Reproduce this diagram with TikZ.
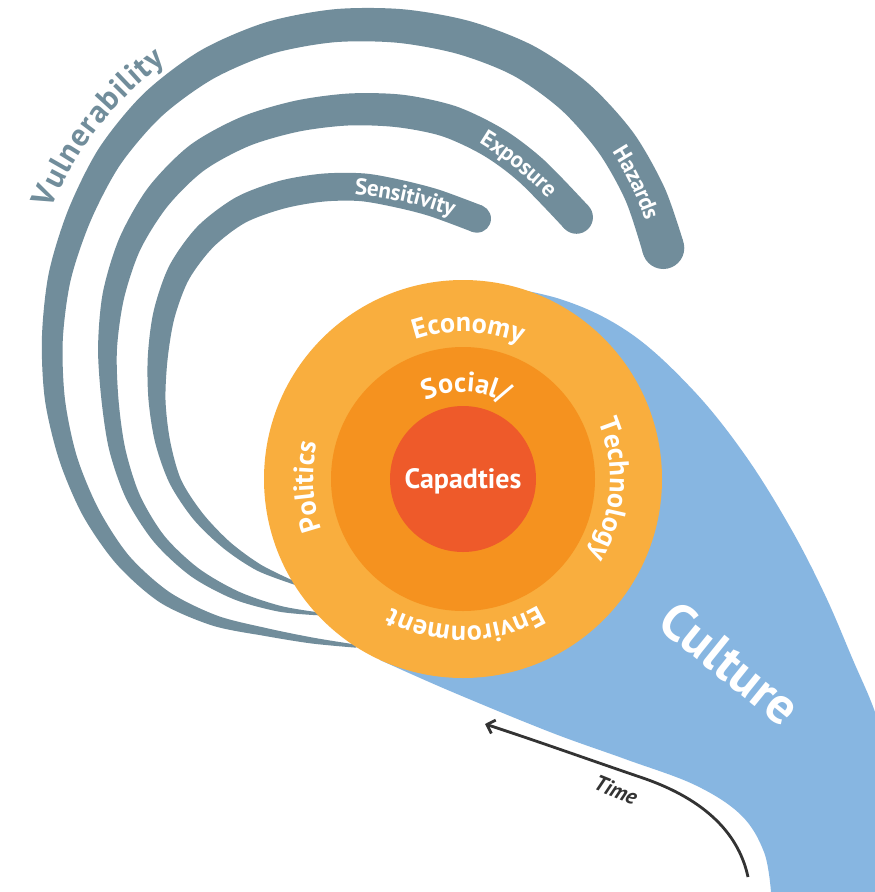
\documentclass[tikz,border=0pt]{standalone}
\usepackage{fontspec}
\setmainfont{PT Sans}
\usetikzlibrary{calc,decorations.text,arrows.meta}

\definecolor{bandgray}{HTML}{718D9B}
\definecolor{ringouter}{HTML}{F9AE3E}
\definecolor{ringmid}{HTML}{F5921F}
\definecolor{ringcore}{HTML}{EE5A2A}
\definecolor{culturefill}{HTML}{87B6E1}
\definecolor{timeink}{HTML}{333333}

\newcommand\ringfont{\fontsize{28}{30}\selectfont\bfseries}
\newcommand\bandfont{\fontsize{23}{25}\selectfont\bfseries}

% A tapering band around (bandO): polar centre points angle/radius/width,
% from the thin tail to the round head.
\newcommand\taperband[3]{%
  \foreach \pa/\pr/\pw [count=\i] in {#3} {\coordinate (#1-c-\i) at ($(bandO)+(\pa:\pr)$);}
  \gdef\bandouter{}\gdef\bandinner{}%
  \foreach \pa/\pr/\pw [count=\i] in {#3} {
    \pgfmathsetmacro\hw{\pw/2}
    \ifnum\i<#2\relax
      \pgfmathtruncatemacro\j{\i+1}
      \coordinate (#1-o-\i) at ($(#1-c-\i)!\hw pt!90:(#1-c-\j)$);
      \coordinate (#1-i-\i) at ($(#1-c-\i)!\hw pt!-90:(#1-c-\j)$);
    \else
      \pgfmathtruncatemacro\j{\i-1}
      \coordinate (#1-o-\i) at ($(#1-c-\i)!\hw pt!-90:(#1-c-\j)$);
      \coordinate (#1-i-\i) at ($(#1-c-\i)!\hw pt!90:(#1-c-\j)$);
      \fill[bandgray] (#1-c-\i) circle[radius=\hw];
    \fi
    \xdef\bandouter{\bandouter (#1-o-\i)}
    \xdef\bandinner{(#1-i-\i) \bandinner}
  }
  \edef\bandpath{\noexpand\fill[bandgray] plot[smooth] coordinates {\bandouter} -- plot[smooth] coordinates {\bandinner} -- cycle;}%
  \bandpath
}

\tikzset{
  ringlabel/.style={decorate, decoration={text along path, text align=center,
      text color=white, text={|\ringfont|#1}}},
  bandlabel/.style={decorate, decoration={text along path, text align=center,
      raise=-8pt, text color=white, text={|\bandfont|#1}}},
}

\begin{document}
\begin{tikzpicture}[x=1pt,y=-1pt]
\useasboundingbox (0,0) rectangle (875,892);
\fill[white] (0,0) rectangle (875,892);
\coordinate (ctr) at (463,479);
\coordinate (bandO) at (400,400);

% culture stream behind the rings
\fill[culturefill] plot[smooth, tension=0.6] coordinates {(470,281) (560,299) (630,333) (693,390) (745,455) (790,527) (825,595) (853,660) (875,712) (892,770)}
  -- (895,900) -- (772,900)
  -- plot[smooth, tension=0.6] coordinates {(771,892) (764,852) (741,815) (695,785) (625,759) (550,732) (450,691) (380,660)}
  -- (ctr) -- cycle;

% vulnerability bands
\taperband{hz}{24}{100/250/3, 110/256/6, 120/268/8, 130/288/11, 140/307/14, 150/320/15, 160/329/17, 170/337/18, 180/345/20, 190/353/21, 200/362/23, 210/370/25, 220/379/27, 230/385/29, 240/387/31, 250/385/32, 260/380/33, 270/374/34, 280/368/35, 290/361/36, 300/350/38, 310/336/40, 320/320/41, 330/304/42}
\taperband{ex}{21}{111/229/3, 120/241/6, 130/255/9, 140/268/11, 150/278/12, 160/284/14, 170/287/16, 180/290/17, 190/297/19, 200/305/22, 210/312/24, 220/316/27, 230/316/29, 240/310/30, 250/302/31, 260/295/32, 270/289/33, 280/283/33, 290/274/33, 300/264/33, 314/254/33}
\taperband{se}{18}{119.5/211/3, 130/219/7, 140/226/9, 150/233/11, 160/239/12, 170/241/15, 180/243/17, 190/246/20, 200/251/22, 210/255/24, 220/254/26, 230/248/27, 240/237/28, 250/226/28, 260/216/28, 270/206/28, 280/200/28, 293/197/28}

% band labels
\path[bandlabel=Hazards] (603,125) .. controls (630,160) and (652,205) .. (660,245);
\path[bandlabel=Exposure] (455,122) .. controls (495,138) and (540,175) .. (575,216);
\path[bandlabel=Sensitivity] (330,187) .. controls (380,184) and (440,200) .. (478,219);
\path[decorate, decoration={text along path, text align=center, raise=25pt,
    text color=bandgray, text={|\fontsize{32}{34}\selectfont\bfseries|Vulnerability}}]
  (62,250) .. controls (85,180) and (132,108) .. (208,64);

% time arrow
\coordinate (tstart) at (748,877);
\coordinate (tend) at (485,724);
\draw[timeink, line width=2.8pt, -{Straight Barb[length=7pt,width=14pt]}]
  (tstart) .. controls (738,830) and (700,797) .. (640,777)
  .. controls (590,760) and (540,742) .. (tend);
\node[rotate=-22, text=timeink, font=\fontsize{22}{24}\selectfont\bfseries\itshape] (time) at (616,790) {Time};

% culture label
\node[rotate=-39, text=white, font=\fontsize{52}{56}\selectfont\bfseries] (culture) at (730,663) {Culture};

% capacity rings
\node[circle, fill=ringouter, minimum size=398pt, inner sep=0pt] (outer) at (ctr) {};
\node[circle, fill=ringmid, minimum size=264pt, inner sep=0pt] (mid) at (ctr) {};
\node[circle, fill=ringcore, minimum size=146pt, inner sep=0pt] (core) at (ctr) {};

\path[ringlabel=Economy] (ctr) ++(-140:147) arc[start angle=-140, end angle=-36, radius=147];
\path[ringlabel=Technology] (ctr) ++(-48:147) arc[start angle=-48, end angle=56, radius=147];
\path[ringlabel=Environment] (ctr) ++(37:147) arc[start angle=37, end angle=141, radius=147];
\path[ringlabel=Politics] (ctr) ++(125:150) arc[start angle=125, end angle=229, radius=150];
\path[ringlabel=Social/] (ctr) ++(-150:87) arc[start angle=-150, end angle=-26, radius=87];
\node[text=white, font=\ringfont] (cap) at (463,481) {Capadties};
\end{tikzpicture}
\end{document}
